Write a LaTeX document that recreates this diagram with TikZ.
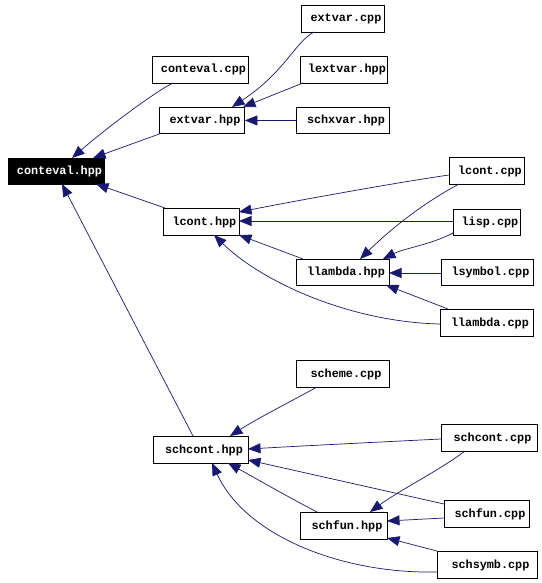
\documentclass[tikz,border=0pt]{standalone}
\usepackage{fontspec}
\setmonofont{Liberation Mono}
\usetikzlibrary{arrows.meta}
\definecolor{edgeblue}{HTML}{191970}
\tikzset{
  box/.style={draw=black, fill=white, line width=0.9pt, inner sep=0pt, anchor=north west,
    font=\ttfamily\bfseries\fontsize{11.8}{12}\selectfont, text=black,
    execute at begin node=\hspace*{6pt}},
  rootbox/.style={box, fill=black, text=white},
  edge/.style={draw=edgeblue, line width=0.7pt, -{Triangle[length=12.5pt,width=10pt]}},
}
\begin{document}
\begin{tikzpicture}[x=1pt,y=-1pt]
\useasboundingbox (0,0) rectangle (541,583);
\fill[white] (0,0) rectangle (541,583);
% nodes (north west corners)
\node[rootbox, minimum width=96, minimum height=26] (ceh) at (8,158) {conteval.hpp};
\node[box, minimum width=96, minimum height=27] (cec) at (152,56) {conteval.cpp};
\node[box, minimum width=85, minimum height=26] (evh) at (159,107) {extvar.hpp};
\node[box, minimum width=83, minimum height=27] (evc) at (301,5) {extvar.cpp};
\node[box, minimum width=87, minimum height=27] (lev) at (300,56) {lextvar.hpp};
\node[box, minimum width=93, minimum height=26] (sxv) at (296,107) {schxvar.hpp};
\node[box, minimum width=75, minimum height=27] (lcc) at (449,157) {lcont.cpp};
\node[box, minimum width=76, minimum height=27] (lch) at (163,208) {lcont.hpp};
\node[box, minimum width=67, minimum height=26] (lsp) at (453,209) {lisp.cpp};
\node[box, minimum width=93, minimum height=26] (llh) at (296,259) {llambda.hpp};
\node[box, minimum width=92, minimum height=26] (lsy) at (441,259) {lsymbol.cpp};
\node[box, minimum width=93, minimum height=27] (llc) at (440,309) {llambda.cpp};
\node[box, minimum width=93, minimum height=27] (scm) at (296,360) {scheme.cpp};
\node[box, minimum width=95, minimum height=27] (sch) at (153,436) {schcont.hpp};
\node[box, minimum width=96, minimum height=27] (scc) at (441,424) {schcont.cpp};
\node[box, minimum width=85, minimum height=27] (sfc) at (444,500) {schfun.cpp};
\node[box, minimum width=87, minimum height=27] (sfh) at (300,512) {schfun.hpp};
\node[box, minimum width=100, minimum height=27] (ssc) at (437,551) {schsymb.cpp};
% edges
\draw[edge] ([shift={(21,27)}]cec.north west) .. controls (158,90) and (110,125) .. ([shift={(64,0)}]ceh.north west);
\draw[edge] ([shift={(3,26)}]evh.north west) -- ([shift={(85,0)}]ceh.north west);
\draw[edge] ([shift={(13,27)}]evc.north west) .. controls (295,42) and (285,72) .. ([shift={(73,0)}]evh.north west);
\draw[edge] ([shift={(3,27)}]lev.north west) -- ([shift={(84,0)}]evh.north west);
\draw[edge] (sxv.west) -- (evh.east);
\draw[edge] ([shift={(2,0)}]lch.north west) -- ([shift={(88,26)}]ceh.north west);
\draw[edge] ([shift={(40,0)}]sch.north west) -- ([shift={(54,26)}]ceh.north west);
\draw[edge] ([shift={(0,18)}]lcc.north west) .. controls (400,182) and (300,200) .. ([shift={(76,4)}]lch.north west);
\draw[edge] ([shift={(0,12)}]lsp.north west) -- ([shift={(76,13)}]lch.north west);
\draw[edge] ([shift={(7,0)}]llh.north west) -- ([shift={(76,27)}]lch.north west);
\draw[edge] ([shift={(0,15)}]llc.north west) .. controls (350,322) and (262,282) .. ([shift={(51,27)}]lch.north west);
\draw[edge] ([shift={(10,27)}]lcc.north west) .. controls (420,205) and (390,230) .. ([shift={(64,0)}]llh.north west);
\draw[edge] ([shift={(0,24)}]lsp.north west) .. controls (430,245) and (405,248) .. ([shift={(87,0)}]llh.north west);
\draw[edge] ([shift={(0,14)}]lsy.north west) -- ([shift={(93,14)}]llh.north west);
\draw[edge] ([shift={(8,0)}]llc.north west) -- ([shift={(90,26)}]llh.north west);
\draw[edge] ([shift={(21,27)}]scm.north west) .. controls (290,402) and (258,418) .. ([shift={(77,0)}]sch.north west);
\draw[edge] ([shift={(0,15)}]scc.north west) .. controls (380,442) and (300,446) .. ([shift={(95,13)}]sch.north west);
\draw[edge] ([shift={(0,4)}]sfc.north west) -- ([shift={(95,24)}]sch.north west);
\draw[edge] ([shift={(17,0)}]sfh.north west) .. controls (290,498) and (255,478) .. ([shift={(75,27)}]sch.north west);
\draw[edge] ([shift={(0,21)}]ssc.north west) .. controls (340,574) and (245,535) .. ([shift={(59,27)}]sch.north west);
\draw[edge] ([shift={(24,27)}]scc.north west) .. controls (440,470) and (400,490) .. ([shift={(70,0)}]sfh.north west);
\draw[edge] ([shift={(0,18)}]sfc.north west) -- ([shift={(87,9)}]sfh.north west);
\draw[edge] ([shift={(0,0)}]ssc.north west) -- ([shift={(87,26)}]sfh.north west);
\end{tikzpicture}
\end{document}
